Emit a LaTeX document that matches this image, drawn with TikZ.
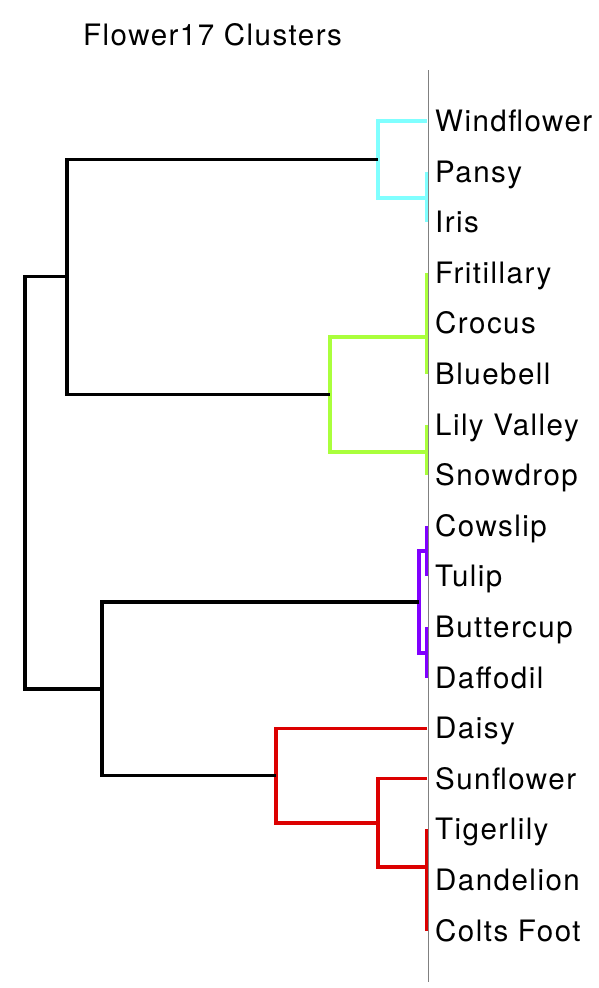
\documentclass[tikz,border=0pt]{standalone}
\usepackage{fontspec}
\setmainfont{TeX Gyre Heros}[LetterSpace=5]
\begin{document}
\begin{tikzpicture}[x=1pt,y=-1pt,
  lbl/.style={anchor=base west,inner sep=0pt,font=\fontsize{29.5}{32}\selectfont},
  ttl/.style={anchor=base west,inner sep=0pt,font=\fontsize{29.5}{32}\selectfont},
  blk/.style={draw=black,line width=3.2pt},
  cy/.style={draw=cyanc,line width=3.2pt},
  gr/.style={draw=greenc,line width=3.2pt},
  pu/.style={draw=purplec,line width=3.2pt},
  rd/.style={draw=redc,line width=3.2pt},
  axis/.style={draw=gray,line width=1.5pt}]
\definecolor{cyanc}{RGB}{128,255,255}
\definecolor{greenc}{RGB}{170,255,60}
\definecolor{purplec}{RGB}{128,0,255}
\definecolor{redc}{RGB}{220,0,0}
\useasboundingbox (0,0) rectangle (598,988);
\fill[white] (0,0) rectangle (598,988);
\node[ttl] (title) at (83,45) {Flower17 Clusters};
% leaves
\foreach \n/\t [count=\i from 0] in {wf/Windflower,pa/Pansy,ir/Iris,fr/Fritillary,cr/Crocus,bl/Bluebell,lv/Lily Valley,sd/Snowdrop,cw/Cowslip,tu/Tulip,bu/Buttercup,da/Daffodil,dy/Daisy,su/Sunflower,ti/Tigerlily,dd/Dandelion,cf/Colts Foot}{
  \coordinate (\n) at (426.5,{121+50.6*\i});
  \node[lbl] (l\n) at (435,{131.5+50.6*\i}) {\t};
}
% cyan cluster
\coordinate (pi) at (426.5,198);
\coordinate (c1) at (378,159.5);
\draw[cy] (pa) -- (ir);
\draw[cy] (wf) -| (c1) |- (pi);
% green cluster
\coordinate (fcb) at (426.5,337);
\coordinate (ls) at (426.5,452);
\coordinate (c2) at (330,394.5);
\draw[gr] (fr) -- (bl);
\draw[gr] (lv) -- (sd);
\draw[gr] (fcb) -| (c2) |- (ls);
% purple cluster
\coordinate (ct) at (426.5,551);
\coordinate (bd) at (426.5,653);
\coordinate (c3) at (419,602);
\draw[pu] (cw) -- (tu);
\draw[pu] (bu) -- (da);
\draw[pu] (ct) -| (c3) |- (bd);
% red cluster
\coordinate (tdc) at (426.5,867);
\coordinate (c4b) at (378,823);
\coordinate (c4) at (276,775.5);
\draw[rd] (ti) -- (cf);
\draw[rd] (su) -| (c4b) |- (tdc);
\draw[rd] (dy) -| (c4) |- (c4b);
% black tree
\coordinate (b1) at (67,276.5);
\coordinate (b2) at (102,689);
\coordinate (root) at (25,482.75);
\draw[blk] (c1) -| (b1) |- (c2);
\draw[blk] (c3) -| (b2) |- (c4);
\draw[blk] (b1) -| (root) |- (b2);
% axis line
\coordinate (at) at (428.5,70);
\coordinate (ab) at (428.5,982);
\draw[axis] (at) -- (ab);
\end{tikzpicture}
\end{document}
